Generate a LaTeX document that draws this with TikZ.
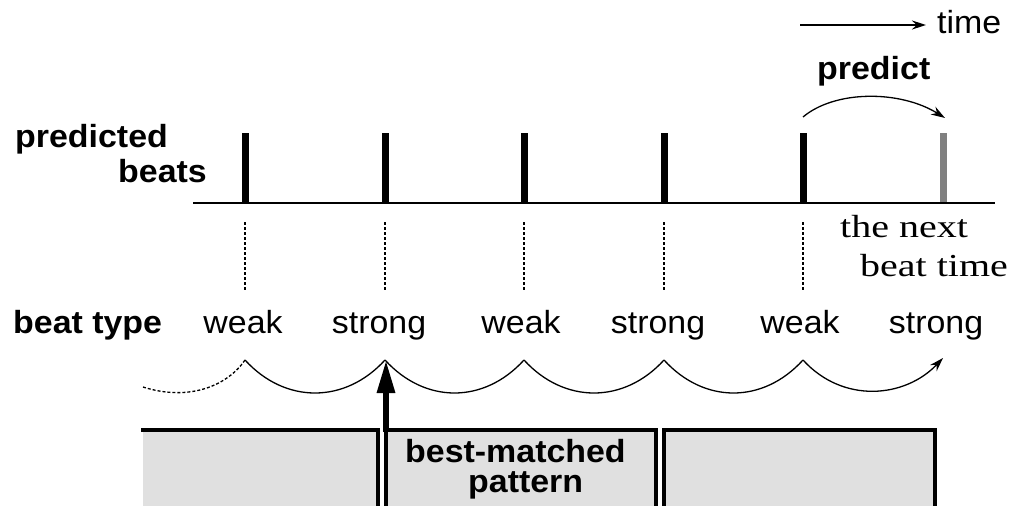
\documentclass[tikz,border=0pt]{standalone}
\usepackage{fontspec}
\usepackage{graphicx}
\setmainfont{Liberation Sans}
\newfontfamily\nextserif{Liberation Serif}
\usetikzlibrary{arrows.meta}
\newcommand{\hsx}[1]{\scalebox{1.06}[1]{#1}}
\newcommand{\hsr}[1]{\scalebox{1.25}[1]{#1}}
\tikzset{
  lbl/.style={inner sep=0pt, anchor=base west, font=\fontsize{32}{36}\selectfont},
  blbl/.style={inner sep=0pt, anchor=base west, font=\fontsize{32}{36}\selectfont\bfseries},
  typelbl/.style={inner sep=0pt, anchor=base, font=\fontsize{32}{36}\selectfont},
  serlbl/.style={inner sep=0pt, anchor=base west, font=\fontsize{32}{36}\selectfont\nextserif},
  beatbar/.style={line width=7pt},
  nextbar/.style={line width=7pt, draw=black!50},
  axisline/.style={line width=2pt},
  guide/.style={line width=1.5pt, dash pattern=on 3pt off 2pt},
  wave/.style={line width=1.3pt},
  dwave/.style={line width=1.3pt, dash pattern=on 3pt off 2pt},
  thinarrow/.style={line width=1.5pt, -{Stealth[length=14pt,width=9pt]}},
  boxfill/.style={fill=black!12, draw=none},
  boxedge/.style={line width=4pt, line join=miter},
  bigarrow/.style={line width=6pt, -{Triangle[length=33pt,width=17pt]}}
}
\begin{document}
\begin{tikzpicture}[x=1pt,y=-1pt]
\useasboundingbox (0,0) rectangle (1012,506);
\clip (0,0) rectangle (1012,506);
% time arrow
\coordinate (t0) at (800,25);
\coordinate (t1) at (926,25);
\node[lbl] (time) at (937,34) {\hsx{time}};
\draw[thinarrow] (t0) -- (t1);
% left labels
\node[blbl] (pred) at (15,147) {\hsx{predicted}};
\node[blbl] (beats) at (118,182) {\hsx{beats}};
\node[blbl] (btype) at (13,333) {\hsx{beat type}};
% beats
\foreach \i/\x in {1/245,2/385,3/524,4/664,5/803}{
  \coordinate (top\i) at (\x,133);
  \coordinate (base\i) at (\x,203);
  \draw[beatbar] (top\i) -- (base\i);
  \coordinate (g\i a) at (\x,222);
  \coordinate (g\i b) at (\x,290);
  \draw[guide] (g\i a) -- (g\i b);
  \coordinate (cusp\i) at (\x,360);
}
\coordinate (top6) at (943,133);
\coordinate (base6) at (943,203);
\draw[nextbar] (top6) -- (base6);
\coordinate (ax0) at (193,203);
\coordinate (ax1) at (995,203);
\draw[axisline] (ax0) -- (ax1);
% predict
\node[blbl] (predict) at (817,79) {\hsx{predict}};
\coordinate (pa) at (803,117);
\coordinate (pb) at (945,118);
\draw[thinarrow, line width=1.3pt] (pa) .. controls (835,90) and (900,90) .. (pb);
% next beat text
\node[serlbl] (next1) at (840,237) {\hsr{the next}};
\node[serlbl] (next2) at (860,276) {\hsr{beat time}};
% beat type labels
\node[typelbl] (w1) at (243,333) {\hsx{weak}};
\node[typelbl] (s1) at (379,333) {\hsx{strong}};
\node[typelbl] (w2) at (521,333) {\hsx{weak}};
\node[typelbl] (s2) at (658,333) {\hsx{strong}};
\node[typelbl] (w3) at (800,333) {\hsx{weak}};
\node[typelbl] (s3) at (936,333) {\hsx{strong}};
% waves
\coordinate (wstart) at (143,387);
\coordinate (wend) at (943,358);
\draw[dwave] (wstart) .. controls (190,402) and (228,385) .. (cusp1);
\draw[wave] (cusp1) .. controls (285,404) and (345,404) .. (cusp2);
\draw[wave] (cusp2) .. controls (425,404) and (484,404) .. (cusp3);
\draw[wave] (cusp3) .. controls (564,404) and (624,404) .. (cusp4);
\draw[wave] (cusp4) .. controls (704,404) and (763,404) .. (cusp5);
\draw[thinarrow, line width=1.3pt] (cusp5) .. controls (843,404) and (905,398) .. (wend);
% boxes
\fill[boxfill] (143,430) rectangle (377.5,520);
\fill[boxfill] (386,430) rectangle (656,520);
\fill[boxfill] (664,430) rectangle (935,520);
\draw[boxedge] (141,430) -- (377.5,430) -- (377.5,520);
\draw[boxedge] (386,520) -- (386,430) -- (656,430) -- (656,520);
\draw[boxedge] (664,520) -- (664,430) -- (935,430) -- (935,520);
\coordinate (arrfoot) at (386,432);
\draw[bigarrow] (arrfoot) -- (cusp2 -| arrfoot);
\node[blbl] (bm1) at (405,462) {\hsx{best-matched}};
\node[blbl] (bm2) at (468,492) {\hsx{pattern}};
\end{tikzpicture}
\end{document}
